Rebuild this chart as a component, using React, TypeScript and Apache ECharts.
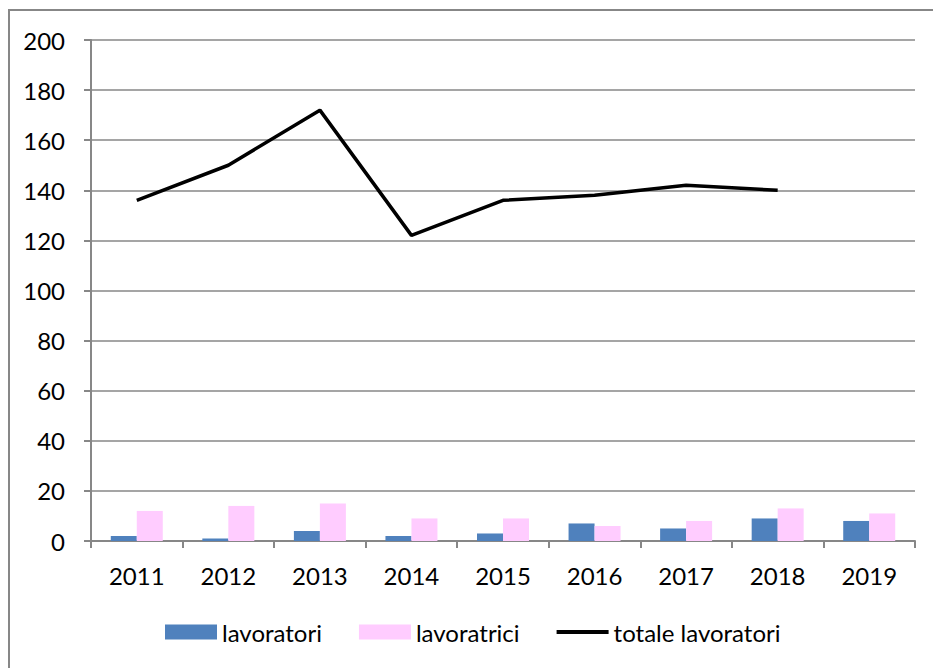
import React, { useEffect, useRef } from "react";
import * as echarts from "echarts";

const years = ["2011", "2012", "2013", "2014", "2015", "2016", "2017", "2018", "2019"];
const lavoratori = [2, 1, 4, 2, 3, 7, 5, 9, 8];
const lavoratrici = [12, 14, 15, 9, 9, 6, 8, 13, 11];
const totale = [136, 150, 172, 122, 136, 138, 142, 140, null];

const FONT = "Lato";
const FS = 24;
const AXIS_COLOR = "#878787";

export default function App() {
  const ref = useRef<HTMLDivElement>(null);
  useEffect(() => {
    if (!ref.current) return;
    const chart = echarts.init(ref.current, null, { renderer: "svg" });
    chart.setOption({
      animation: false,
      backgroundColor: "#ffffff",
      textStyle: { fontFamily: FONT },
      grid: { left: 91, right: 18, top: 40, bottom: 127, containLabel: false },
      legend: {
        left: 165,
        top: 620,
        padding: 0,
        itemWidth: 52,
        itemHeight: 15,
        itemGap: 37,
        textStyle: { fontFamily: FONT, fontSize: FS, color: "#000" },
        data: [
          { name: "lavoratori", icon: "rect" },
          { name: "lavoratrici", icon: "rect" },
          { name: "totale lavoratori", icon: "path://M0,0h54v4h-54z" },
        ],
      },
      xAxis: {
        type: "category",
        data: years,
        boundaryGap: true,
        axisLine: { show: true, lineStyle: { color: AXIS_COLOR, width: 2 } },
        axisTick: { show: true, length: 7, alignWithLabel: false, lineStyle: { color: AXIS_COLOR, width: 2 } },
        axisLabel: { color: "#000", fontSize: FS, fontFamily: FONT, margin: 22 },
        splitLine: { show: false },
      },
      yAxis: {
        type: "value",
        min: 0,
        max: 200,
        interval: 20,
        axisLine: { show: true, lineStyle: { color: AXIS_COLOR, width: 2 } },
        axisTick: { show: true, length: 7, lineStyle: { color: AXIS_COLOR, width: 2 } },
        axisLabel: { color: "#000", fontSize: FS, fontFamily: FONT, margin: 26 },
        splitLine: { show: true, lineStyle: { color: AXIS_COLOR, width: 1.5 } },
      },
      series: [
        {
          name: "lavoratori",
          type: "bar",
          data: lavoratori,
          barWidth: 26,
          barGap: "0%",
          itemStyle: { color: "#4F81BD" },
        },
        {
          name: "lavoratrici",
          type: "bar",
          data: lavoratrici,
          barWidth: 26,
          barGap: "0%",
          itemStyle: { color: "#FFCCFF" },
        },
        {
          name: "totale lavoratori",
          type: "line",
          data: totale,
          symbol: "none",
          showSymbol: false,
          connectNulls: false,
          lineStyle: { color: "#000", width: 3.5 },
          itemStyle: { color: "#000" },
          z: 5,
        },
      ],
      graphic: [
        {
          type: "rect",
          silent: true,
          shape: { x: 9, y: 10, width: 1000, height: 1000 },
          style: { fill: "none", stroke: "#878787", lineWidth: 2 },
        },
      ],
    });
    return () => chart.dispose();
  }, []);
  return (
    <div
      ref={ref}
      style={{ position: "absolute", left: 0, top: 0, width: 933, height: 668 }}
    />
  );
}
